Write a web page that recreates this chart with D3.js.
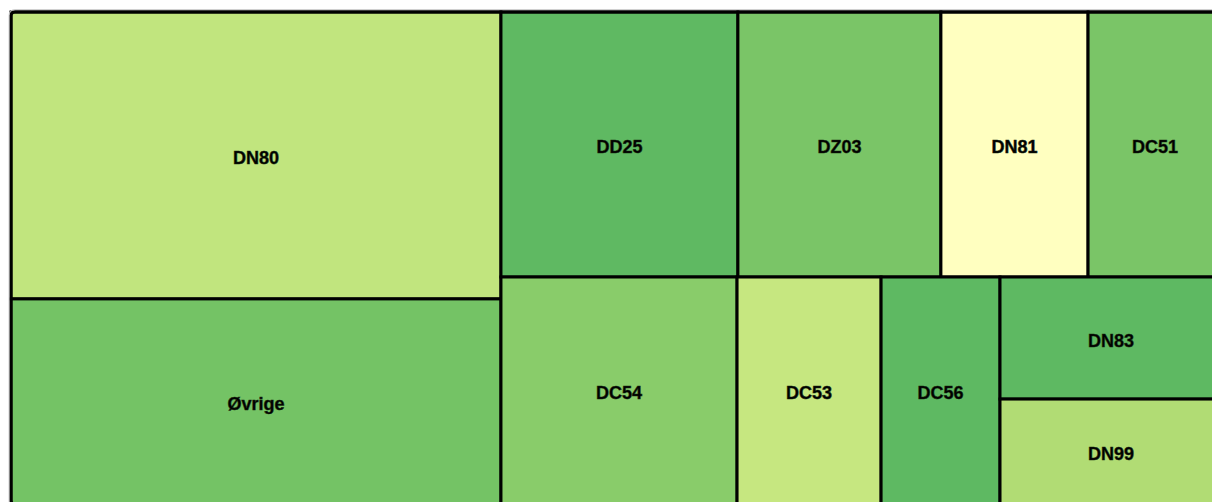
<!DOCTYPE html>
<html>
<head>
<meta charset="utf-8">
<script src="https://cdn.jsdelivr.net/npm/d3@7"></script>
<style>
  html, body { margin: 0; padding: 0; background: #fff; overflow: hidden; }
  svg { display: block; }
</style>
</head>
<body>
<svg id="chart" width="1212" height="502"></svg>
<script>
// ---- data ----
const categories = ["DN80", "Øvrige", "DD25", "DZ03", "DN81", "DC51", "DC54", "DC53", "DC56", "DN83", "DN99"];
const values     = [1406, 1005, 628, 538, 390, 355, 536, 327, 270, 271, 233];
const groupPaths = ["left", "left", "right/top", "right/top", "right/top", "right/top",
                    "right/bottom", "right/bottom", "right/bottom", "right/bottom/stack", "right/bottom/stack"];
const palette    = ["#c1e57e", "#74c365", "#5fb962", "#7ac567", "#ffffc0", "#7ac567",
                    "#89cc6a", "#c6e780", "#5eb962", "#5eb962", "#b1dc74"];

// ---- build hierarchy ----
const rootData = { name: "root", children: [] };
categories.forEach((c, i) => {
  let node = rootData;
  groupPaths[i].split("/").forEach(g => {
    let child = node.children.find(n => n.name === g && n.children);
    if (!child) { child = { name: g, children: [] }; node.children.push(child); }
    node = child;
  });
  node.children.push({ name: c, value: values[i], color: palette[i] });
});

const x0 = 11, y0 = 12, W = 1211, H = 492;
const root = d3.hierarchy(rootData).sum(d => d.value || 0);
d3.treemap().tile(d3.treemapSliceDice).size([W, H]).round(false)(root);

const svg = d3.select("#chart");
const g = svg.append("g").attr("transform", `translate(${x0},${y0})`);

// faint outer outline
svg.append("rect")
  .attr("x", x0 - 2).attr("y", y0 - 2.5).attr("width", W + 4).attr("height", H + 6)
  .attr("rx", 6).attr("fill", "none").attr("stroke", "#d0d0d0").attr("stroke-width", 1);

const leaves = root.leaves();
const cell = g.selectAll("g.cell").data(leaves).join("g").attr("class", "cell");

cell.append("rect")
  .attr("x", d => d.x0).attr("y", d => d.y0)
  .attr("width", d => d.x1 - d.x0).attr("height", d => d.y1 - d.y0)
  .attr("fill", d => d.data.color)
  .attr("stroke", "#000").attr("stroke-width", 3);

cell.append("text")
  .attr("x", d => (d.x0 + d.x1) / 2)
  .attr("y", d => (d.y0 + d.y1) / 2 + 2)
  .attr("dy", "0.36em")
  .attr("text-anchor", "middle")
  .attr("font-family", "'Liberation Sans', Arial, sans-serif")
  .attr("font-weight", "bold")
  .attr("font-size", 18)
  .attr("fill", "#000")
  .attr("stroke", "#1a2a10").attr("stroke-width", 0.5)
  .text(d => d.data.name);

// outer border with rounded corner
g.append("rect")
  .attr("x", 0).attr("y", 0).attr("width", W).attr("height", H)
  .attr("rx", 4).attr("fill", "none").attr("stroke", "#000").attr("stroke-width", 3);
</script>
</body>
</html>
